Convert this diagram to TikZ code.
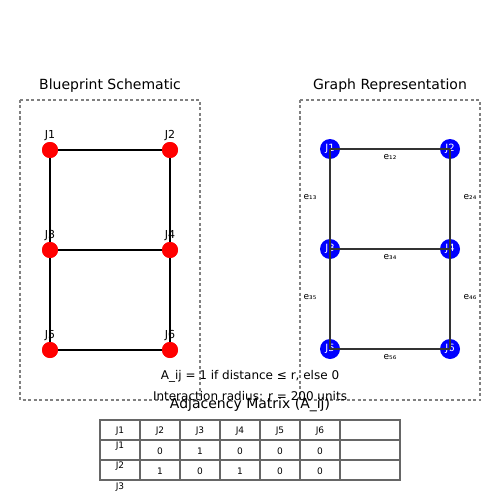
\documentclass[tikz,border=0pt]{standalone}
\usepackage{fontspec}
\setmainfont{DejaVu Sans}
\begin{document}
\begin{tikzpicture}[x=1pt,y=-1pt,
  panel/.style={draw=gray,dashed,line width=1.2pt,dash pattern=on 3pt off 2.5pt},
  rednode/.style={circle,fill=red,minimum size=16pt,inner sep=0pt},
  bluenode/.style={circle,fill=blue,minimum size=20pt,inner sep=0pt,text=white,font=\fontsize{10}{10}\selectfont},
  jlab/.style={font=\fontsize{11}{11}\selectfont,inner sep=0pt},
  bedge/.style={black,line width=1.6pt},
  gedge/.style={black!80,line width=2pt},
  elab/.style={font=\fontsize{9}{9}\selectfont,inner sep=0pt},
  ttl/.style={font=\fontsize{14}{14}\selectfont,inner sep=0pt},
  note/.style={font=\fontsize{12}{12}\selectfont,inner sep=0pt},
  cell/.style={font=\fontsize{9}{9}\selectfont,inner sep=0pt},
  grid/.style={draw=black!60,line width=1.2pt}]
\useasboundingbox (0,0) rectangle (500,500);
\fill[white] (0,0) rectangle (500,500);
% titles
\node[ttl] (t1) at (110,86) {Blueprint Schematic};
\node[ttl] (t2) at (390,86) {Graph Representation};
% panels
\draw[panel] (20,100) rectangle (200,400);
\draw[panel] (300,100) rectangle (480,400);
% left blueprint
\node[rednode] (a1) at (50,150) {};
\node[rednode] (a2) at (170,150) {};
\node[rednode] (a3) at (50,250) {};
\node[rednode] (a4) at (170,250) {};
\node[rednode] (a5) at (50,350) {};
\node[rednode] (a6) at (170,350) {};
\draw[bedge] (a1.center) -- (a2.center);
\draw[bedge] (a1.center) -- (a3.center);
\draw[bedge] (a2.center) -- (a4.center);
\draw[bedge] (a3.center) -- (a4.center);
\draw[bedge] (a3.center) -- (a5.center);
\draw[bedge] (a4.center) -- (a6.center);
\draw[bedge] (a5.center) -- (a6.center);
\foreach \n in {a1,a2,a3,a4,a5,a6}{\fill[red] (\n) circle (8);}
\node[jlab] (la1) at (50,136) {J1};
\node[jlab] (la2) at (170,136) {J2};
\node[jlab] (la3) at (50,236) {J3};
\node[jlab] (la4) at (170,236) {J4};
\node[jlab] (la5) at (50,336) {J5};
\node[jlab] (la6) at (170,336) {J6};
% right graph
\node[bluenode] (b1) at (330,149) {J1};
\node[bluenode] (b2) at (450,149) {J2};
\node[bluenode] (b3) at (330,249) {J3};
\node[bluenode] (b4) at (450,249) {J4};
\node[bluenode] (b5) at (330,349) {J5};
\node[bluenode] (b6) at (450,349) {J6};
\draw[gedge] (b1.center) -- (b2.center);
\draw[gedge] (b1.center) -- (b3.center);
\draw[gedge] (b2.center) -- (b4.center);
\draw[gedge] (b3.center) -- (b4.center);
\draw[gedge] (b3.center) -- (b5.center);
\draw[gedge] (b4.center) -- (b6.center);
\draw[gedge] (b5.center) -- (b6.center);
\node[elab] (e12) at (390,157) {e₁₂};
\node[elab] (e13) at (310,197) {e₁₃};
\node[elab] (e24) at (470,197) {e₂₄};
\node[elab] (e34) at (390,257) {e₃₄};
\node[elab] (e35) at (310,297) {e₃₅};
\node[elab] (e46) at (470,297) {e₄₆};
\node[elab] (e56) at (390,357) {e₅₆};
% notes
\node[note] (n1) at (250,376) {A\_ij = 1 if distance ≤ r, else 0};
\node[note] (n2) at (250,396) {Interaction radius: r = 200 units};
\node[ttl] (t3) at (250,405) {Adjacency Matrix (A\_ij)};
% table
\draw[grid] (100,420) rectangle (400,480);
\draw[grid] (100,440) -- (400,440);
\draw[grid] (100,460) -- (400,460);
\foreach \x in {140,180,220,260,300,340}{\draw[grid] (\x,420) -- (\x,480);}
\node[cell] (h1) at (120,431) {J1};
\node[cell] (h2) at (160,431) {J2};
\node[cell] (h3) at (200,431) {J3};
\node[cell] (h4) at (240,431) {J4};
\node[cell] (h5) at (280,431) {J5};
\node[cell] (h6) at (320,431) {J6};
\node[cell] (r1) at (120,446) {J1};
\node[cell] (r2) at (120,466) {J2};
\node[cell] (r3) at (120,487) {J3};
\node[cell] (c11) at (160,451) {0};
\node[cell] (c12) at (200,451) {1};
\node[cell] (c13) at (240,451) {0};
\node[cell] (c14) at (280,451) {0};
\node[cell] (c15) at (320,451) {0};
\node[cell] (c21) at (160,471) {1};
\node[cell] (c22) at (200,471) {0};
\node[cell] (c23) at (240,471) {1};
\node[cell] (c24) at (280,471) {0};
\node[cell] (c25) at (320,471) {0};
\end{tikzpicture}
\end{document}
